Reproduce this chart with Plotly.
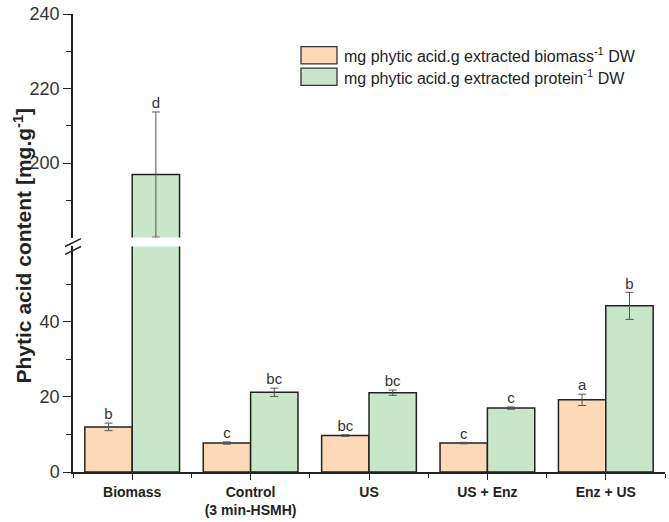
import plotly.graph_objects as go

categories = ["Biomass", "Control<br>(3 min-HSMH)", "US", "US + Enz", "Enz + US"]
biomass_vals = [12.0, 7.7, 9.7, 7.7, 19.2]
biomass_err = [1.0, 0.3, 0.2, 0.2, 1.5]
biomass_letters = ["b", "c", "bc", "c", "a"]
protein_vals = [196.9, 21.2, 21.1, 17.0, 44.2]
protein_err = [16.8, 1.1, 0.7, 0.3, 3.6]
protein_letters = ["d", "bc", "bc", "c", "b"]
series_names = ["mg phytic acid.g extracted biomass<sup>-1</sup> DW",
                "mg phytic acid.g extracted protein<sup>-1</sup> DW"]
colors = ["#FDD9B7", "#C7E7C8"]

lower_range = [0, 60]
upper_range = [180, 240]
bar_w = 0.4

n = len(categories)
x_orange = [i - bar_w / 2 for i in range(n)]
x_green = [i + bar_w / 2 for i in range(n)]

fig = go.Figure()
for yax in ["y", "y2"]:
    for xs, vals, errs, col in [(x_orange, biomass_vals, biomass_err, colors[0]),
                                (x_green, protein_vals, protein_err, colors[1])]:
        fig.add_trace(go.Bar(
            x=xs, y=vals, width=bar_w, yaxis=yax,
            marker=dict(color=col, line=dict(color="#222222", width=1.5)),
            error_y=dict(type="data", array=errs, visible=True,
                         color="#555555", thickness=1, width=4),
            showlegend=False, hoverinfo="skip"))

# significance letters
def add_letters(xs, vals, errs, letters):
    lx, ly, lt, lx2, ly2, lt2 = [], [], [], [], [], []
    for x, v, e, t in zip(xs, vals, errs, letters):
        top = v + e
        if top > upper_range[0]:
            lx2.append(x); ly2.append(top); lt2.append(t)
        else:
            lx.append(x); ly.append(top); lt.append(t)
    for X, Y, T, ya in [(lx, ly, lt, "y"), (lx2, ly2, lt2, "y2")]:
        if X:
            fig.add_trace(go.Scatter(
                x=X, y=Y, text=T, mode="text", yaxis=ya,
                textposition="top center",
                textfont=dict(family="Liberation Sans, Arial", size=15, color="#333333"),
                showlegend=False, hoverinfo="skip", cliponaxis=False))

add_letters(x_orange, biomass_vals, biomass_err, biomass_letters)
add_letters(x_green, protein_vals, protein_err, protein_letters)

font_family = "Liberation Sans, Arial, sans-serif"

axis_common = dict(showline=True, linecolor="#222222", linewidth=1.5,
                   ticks="outside", ticklen=8, tickwidth=1.3, tickcolor="#222222",
                   showgrid=False, zeroline=False,
                   tickfont=dict(family=font_family, size=18, color="#333333"))

lower_dom = [0, 0.4924]
upper_dom = [0.512, 1]

fig.update_layout(
    width=669, height=522,
    margin=dict(l=73, r=4, t=12, b=47),
    plot_bgcolor="white", paper_bgcolor="white",
    barmode="overlay",
    showlegend=False,
    xaxis=dict(range=[-0.5, n - 0.5], tickmode="array", tickvals=list(range(n)),
               ticktext=["<b>" + c + "</b>" for c in categories],
               showline=True, linecolor="#222222", linewidth=1.5,
               ticks="outside", ticklen=6, tickwidth=1.3, tickcolor="#222222",
               minor=dict(tickmode="array", tickvals=[i + 0.5 for i in range(-1, n)],
                          ticks="outside", ticklen=4, tickcolor="#222222", tickwidth=1.3),
               showgrid=False, zeroline=False,
               tickfont=dict(family=font_family, size=14, color="#222222")),
    yaxis=dict(domain=lower_dom, range=lower_range, tickmode="array",
               tickvals=[0, 20, 40],
               minor=dict(tickmode="array", tickvals=[10, 30, 50], ticks="outside",
                          ticklen=5, tickcolor="#222222", tickwidth=1.3),
               **axis_common),
    yaxis2=dict(domain=upper_dom, range=upper_range, anchor="x", tickmode="array",
                tickvals=[200, 220, 240],
                minor=dict(tickmode="array", tickvals=[190, 210, 230], ticks="outside",
                           ticklen=5, tickcolor="#222222", tickwidth=1.3),
                **axis_common),
)

pw, ph = 592.0, 463.0
def px_to_paper(xp, yp):
    return (xp - 73) / pw, (475 - yp) / ph

# axis title (shared across both segments)
tx, ty = px_to_paper(23, 246)
fig.add_annotation(text="<b>Phytic acid content [mg.g<sup>-1</sup>]</b>",
                   xref="paper", yref="paper", x=tx, y=ty,
                   xanchor="center", yanchor="middle", textangle=-90, showarrow=False,
                   font=dict(family=font_family, size=21, color="#222222"))

# axis break marks
for y0 in [243, 251]:
    x0p, y0p = px_to_paper(65, y0 + 4)
    x1p, y1p = px_to_paper(81, y0 - 4)
    fig.add_shape(type="line", xref="paper", yref="paper", x0=x0p, y0=y0p, x1=x1p, y1=y1p,
                  line=dict(color="#222222", width=1.5))

# manual legend with wide swatches
for k, (name, col) in enumerate(zip(series_names, colors)):
    ytop = 45 + k * 21.7
    x0p, y0p = px_to_paper(301, ytop)
    x1p, y1p = px_to_paper(337, ytop + 17.5)
    fig.add_shape(type="rect", xref="paper", yref="paper", x0=x0p, y0=y1p, x1=x1p, y1=y0p,
                  fillcolor=col, line=dict(color="#333333", width=1.3))
    tx, ty = px_to_paper(342, ytop + 8.5)
    fig.add_annotation(text=name, xref="paper", yref="paper", x=tx, y=ty,
                       xanchor="left", yanchor="middle", showarrow=False,
                       font=dict(family=font_family, size=16, color="#222222"))

fig.write_html("out.html")
